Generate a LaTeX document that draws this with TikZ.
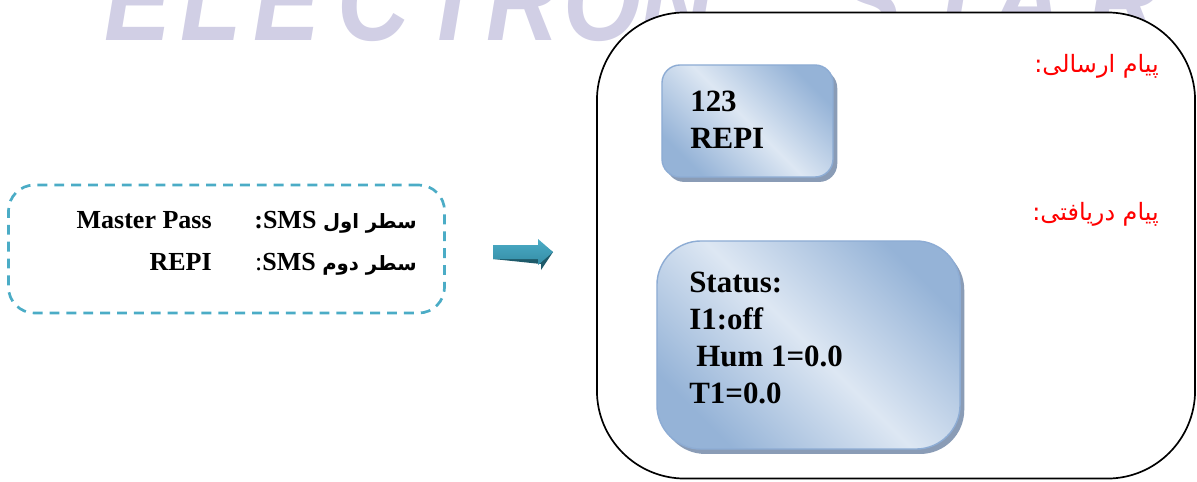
\documentclass[tikz,border=0pt]{standalone}
\usepackage{fontspec}
\setmainfont{Liberation Serif}
\newfontfamily\arabicfont[Script=Arabic]{DejaVu Sans}
\newfontfamily\markfont[FakeStretch=0.85]{Liberation Sans}
\TeXXeTstate=1
\usepackage{xcolor}
\usetikzlibrary{
		calc,
		positioning,
		shadows
	}
\definecolor{markblue}{RGB}{209,207,229}
\definecolor{dashteal}{RGB}{75,172,198}
\definecolor{boxdark}{RGB}{149,179,215}
\definecolor{boxlight}{RGB}{221,231,243}
\definecolor{boxedge}{RGB}{141,172,212}
\definecolor{boxshadow}{RGB}{138,156,182}
\definecolor{arrowlight}{RGB}{75,172,198}
\definecolor{arrowmid}{RGB}{52,140,165}
\definecolor{arrowdark}{RGB}{30,90,106}
\newcommand{\rowar}{\arabicfont\bfseries\fontsize{14}{16}\selectfont}
\tikzset{
		>=stealth,
		markletter/.style={text=markblue,inner sep=0pt,anchor=base west,
			font=\markfont\bfseries\itshape\fontsize{84}{84}\selectfont},
		dashbox/.style={draw=dashteal,line width=1.9pt,dash pattern=on 7pt off 5pt,
			rounded corners=0.65cm,minimum width=10.9cm,minimum height=3.2cm},
		frame/.style={draw,fill=white,line width=1.2pt,rounded corners=2.2cm,
			minimum width=14.95cm,minimum height=11.65cm},
		smsbox/.style={draw=boxedge,line width=1pt,
			left color=boxdark,right color=boxdark,middle color=boxlight,shading angle=135,
			drop shadow={shadow xshift=3pt,shadow yshift=-3.5pt,fill=boxshadow,opacity=1}},
		smstext/.style={inner sep=0pt,anchor=north west,align=left,
			font=\bfseries\fontsize{22}{26.3}\selectfont},
		rowtext/.style={inner sep=0pt,anchor=base east,font=\bfseries\fontsize{18.5}{22}\selectfont},
		redlabel/.style={text=red,inner sep=0pt,anchor=east,font=\arabicfont\fontsize{17}{19}\selectfont}
	}

\begin{document}
\begin{tikzpicture}[x=0.025cm,y=-0.025cm]
          \useasboundingbox (0,0) rectangle (1197,481);

          % watermark behind everything
          \begin{scope}
          \clip (0,0) rectangle (1197,481);
          \foreach \ch/\x [count=\i] in {E/104,L/180,E/253,C/337,T/421,R/486,O/563,N/640,S/835,T/924,A/990,R/1088}
              \node[markletter] (mark\i) at (\x,40) {\ch};
          \end{scope}

          % left box with the two lines
          \node[dashbox] (rows) at (226.5,249) {};
          \node[rowtext] (row1) at (417,228) {\beginR{\rowar سطر اول} \beginL SMS\endL:\endR};
          \node[rowtext] (row2) at (417,270) {\beginR{\rowar سطر دوم} \beginL SMS\endL{\mdseries:}\endR};
          \node[rowtext] (pass) at (212,228) {Master Pass};
          \node[rowtext] (cmd) at (212,270) {REPI};

          % block arrow
          \coordinate (tail) at (493,252);
          \coordinate (tip) at (553,252);
          \fill[arrowdark,shift={(3,5)}] (tail) ++(0,-7) -- (538,245) -- (538,239) -- (tip) -- (538,265) -- (538,259) -- ($(tail)+(0,7)$) -- cycle;
          \shade[top color=arrowlight,bottom color=arrowmid] (tail) ++(0,-7) -- (538,245) -- (538,239) -- (tip) -- (538,265) -- (538,259) -- ($(tail)+(0,7)$) -- cycle;

          % phone screen
          \node[frame] (phone) at (896,245.5) {};

          \node[smsbox,rounded corners=0.45cm,minimum width=4.275cm,minimum height=2.8cm] (sent) at (747.5,121) {};
          \node[smstext] (senttext) at (690,91) {123\\REPI};

          \node[smsbox,rounded corners=1.1cm,minimum width=7.575cm,minimum height=5.2cm] (got) at (808.5,345) {};
          \node[smstext] (gottext) at (689,272) {Status:\\I1:off\\\hspace*{5pt}Hum 1=0.0\\T1=0.0};

          \node[redlabel] (sentlabel) at (1159,66) {\beginR پیام ارسالی:\endR};
          \node[redlabel] (gotlabel) at (1159,214) {\beginR پیام دریافتی:\endR};

          \end{tikzpicture}
\end{document}
